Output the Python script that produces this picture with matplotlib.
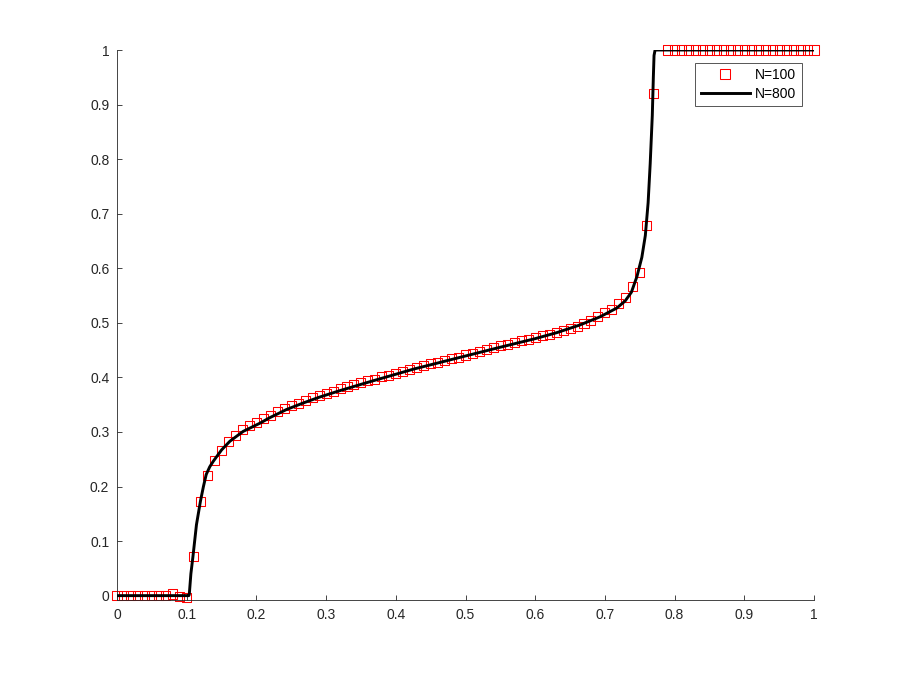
import numpy as np
import matplotlib
matplotlib.use("Agg")
import matplotlib.pyplot as plt
from matplotlib.lines import Line2D

# N=100 solution (markers), x = 0, 0.01, ..., 1.0
x100 = [i / 100 for i in range(101)]
y100 = [0.0, 0.0, 0.0, 0.0, 0.0, 0.0, 0.0, 0.0, 0.003, -0.002,
        -0.004, 0.072, 0.173, 0.220, 0.247, 0.266, 0.282, 0.294, 0.304, 0.312,
        0.318, 0.325, 0.331, 0.337, 0.343, 0.348, 0.353, 0.358, 0.363, 0.367,
        0.371, 0.375, 0.379, 0.383, 0.387, 0.390, 0.394, 0.397, 0.401, 0.404,
        0.408, 0.411, 0.415, 0.418, 0.421, 0.425, 0.428, 0.431, 0.434, 0.437,
        0.441, 0.444, 0.447, 0.451, 0.454, 0.458, 0.461, 0.464, 0.467, 0.470,
        0.473, 0.476, 0.479, 0.482, 0.486, 0.490, 0.494, 0.499, 0.505, 0.512,
        0.519, 0.525, 0.535, 0.546, 0.566, 0.592, 0.678, 0.921, np.nan, 1.0,
        1.0, 1.0, 1.0, 1.0, 1.0, 1.0, 1.0, 1.0, 1.0, 1.0,
        1.0, 1.0, 1.0, 1.0, 1.0, 1.0, 1.0, 1.0, 1.0, 1.0,
        1.0]

# N=800 solution (line)
x800 = [0.0, 0.103, 0.1037, 0.106, 0.109, 0.114, 0.1197, 0.124, 0.128, 0.133,
        0.138, 0.150, 0.162, 0.181, 0.205, 0.219, 0.243, 0.267, 0.291, 0.318,
        0.36, 0.425, 0.49, 0.549, 0.6, 0.631, 0.664, 0.693, 0.717, 0.729,
        0.738, 0.746, 0.753, 0.758, 0.762, 0.765, 0.768, 0.7695, 0.7705, 0.772,
        1.0]
y800 = [0.0, 0.0, 0.002, 0.040, 0.072, 0.130, 0.173, 0.200, 0.222, 0.236,
        0.246, 0.267, 0.283, 0.301, 0.316, 0.326, 0.341, 0.353, 0.364, 0.375,
        0.391, 0.415, 0.436, 0.455, 0.471, 0.482, 0.496, 0.511, 0.527, 0.540,
        0.556, 0.585, 0.62, 0.66, 0.72, 0.792, 0.88, 0.95, 0.99, 1.0,
        1.0]

labels = ["N=100", "N=800"]
ticks = [0, 0.1, 0.2, 0.3, 0.4, 0.5, 0.6, 0.7, 0.8, 0.9, 1]
tick_labels = ["0", "0.1", "0.2", "0.3", "0.4", "0.5", "0.6", "0.7", "0.8", "0.9", "1"]

plt.rcParams['font.family'] = ['Liberation Sans', 'DejaVu Sans']
fig = plt.figure(figsize=(9, 6.75), dpi=100)
ax = fig.add_axes([117 / 900, 75 / 675, 697 / 900, 550 / 675])

ax.scatter(x100, y100, marker='s', s=6.5 ** 2, facecolors='none',
           edgecolors='#ff0000', linewidths=0.75, clip_on=False, zorder=2)
ax.plot(x800, y800, color='black', linewidth=2.1, zorder=3)

ax.set_xlim(0, 1)
ax.set_ylim(-0.008, 1)
ax.set_xticks(ticks)
ax.set_xticklabels(tick_labels)
ax.set_yticks(ticks)
ax.set_yticklabels(tick_labels)

for s in ['top', 'right']:
    ax.spines[s].set_visible(False)
for s in ['left', 'bottom']:
    ax.spines[s].set_color('#262626')
    ax.spines[s].set_linewidth(0.6)
ax.tick_params(direction='in', length=3.6, width=0.6, color='#262626',
               labelsize=10, labelcolor='#262626', pad=5.5)

handles = [Line2D([], [], linestyle='none', marker='s', markersize=6.5,
                  markerfacecolor='none', markeredgecolor='#ff0000', markeredgewidth=0.75),
           Line2D([], [], color='black', linewidth=2.1)]
leg = ax.legend(handles, labels, loc='upper right',
                bbox_to_anchor=((802 - 117) / 697, (600 - 62.5) / 550),
                bbox_transform=ax.transAxes, borderaxespad=0, fancybox=False,
                fontsize=10, handlelength=3.5, handletextpad=0.4, labelspacing=0.32,
                borderpad=0.4, framealpha=1)
leg.get_frame().set_edgecolor('#555555')
leg.get_frame().set_linewidth(0.7)

fig.savefig('out.png', dpi=100, facecolor='white')
